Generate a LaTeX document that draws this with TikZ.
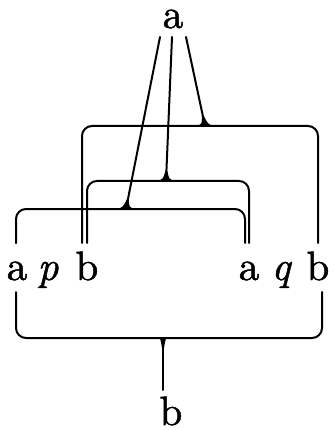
\documentclass[tikz,border=0pt]{standalone}
\usepackage{fontspec}
\newfontfamily\lblfont{lmroman10-regular.otf}[FakeBold=1.2, ItalicFont=lmroman10-italic.otf]
\usetikzlibrary{calc}
\newcommand\flarejoin[2]{%
  \fill ($(#1)+(-9,0)$) .. controls ($(#1)+(-3,-1.8)$) .. ($(#1)!10pt!(#2)+(-1,0)$)
    -- ($(#1)!10pt!(#2)+(1,0)$) .. controls ($(#1)+(3,-1.8)$) .. ($(#1)+(9,0)$) -- cycle;}
\begin{document}
\begin{tikzpicture}[x=1pt,y=-1pt,
  lbl/.style={anchor=base,inner sep=0pt,font=\lblfont\fontsize{41}{49}\selectfont},
  wire/.style={line width=2pt,line cap=round},
  brk/.style={wire,rounded corners=10pt}]
\useasboundingbox (0,0) rectangle (333,430);
% labels
\node[lbl] (atop) at (173,28) {a};
\node[lbl] (a1) at (17,280) {a};
\node[lbl] (p) at (48,280) {\itshape p};
\node[lbl] (b1) at (87,280) {b};
\node[lbl] (a2) at (249,280) {a};
\node[lbl] (q) at (281,280) {\itshape q};
\node[lbl] (b2) at (318,280) {b};
\node[lbl] (bbot) at (171,425) {b};
% coordinates
\coordinate (s1) at (160,37);
\coordinate (s2) at (172,37);
\coordinate (s3) at (186,37);
\coordinate (j1) at (205,126);
\coordinate (j2) at (166,181);
\coordinate (j3) at (126,209);
\coordinate (j4) at (163,338);
\coordinate (stem) at (163,390);
\coordinate (l1) at (82,243);  \coordinate (r1) at (318,243);
\coordinate (l2) at (87,243);  \coordinate (r2) at (249,243);
\coordinate (l3) at (16,243);  \coordinate (r3) at (245,243);
\coordinate (l4) at (16,292);  \coordinate (r4) at (322,292);
% brackets
\draw[brk] (l1) |- (j1) -| (r1);
\draw[brk] (l2) |- (j2) -| (r2);
\draw[brk] (l3) |- (j3) -| (r3);
\draw[brk] (l4) |- (j4) -| (r4);
% connectors
\draw[wire] (s1) -- (j3);
\draw[wire] (s2) -- (j2);
\draw[wire] (s3) -- (j1);
\draw[wire] (j4) -- (stem);
% junction flares
\flarejoin{j1}{s3}
\flarejoin{j2}{s2}
\flarejoin{j3}{s1}
\flarejoin{j4}{stem}
\end{tikzpicture}
\end{document}
